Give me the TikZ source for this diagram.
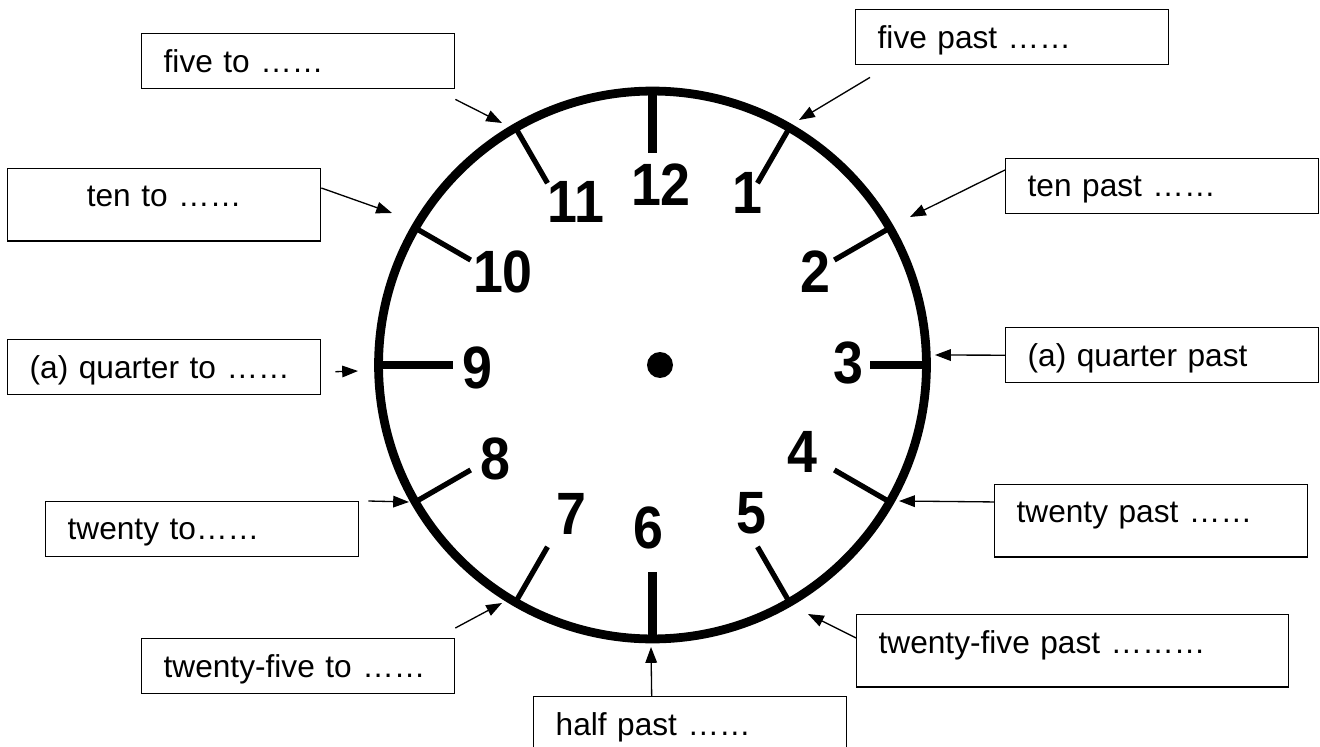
\documentclass[tikz,border=0pt]{standalone}
\usepackage{fontspec}
\setmainfont{Liberation Sans}
\newfontfamily\dialfont[FakeStretch=0.9]{Liberation Sans}
\usetikzlibrary{arrows.meta, positioning}
\tikzset{
    clock/.style={x=0.02cm, y=-0.02cm, font=\fontsize{18}{22}\selectfont},
    clock box/.style={draw, line width=0.8pt, anchor=north west,
        minimum width=6.26cm, minimum height=1.1cm, text width=5.38cm,
        inner xsep=0.44cm, align=left, text depth=0pt},
    clock tall box/.style={clock box, minimum height=1.45cm, text depth=0.34cm},
    clock arrow/.style={-{Triangle[length=9pt, width=6.6pt]}, line width=0.75pt},
    clock rim/.style={line width=5pt},
    clock tick/.style={line width=3pt},
    clock main tick/.style={line width=5pt},
    clock digit/.style={font=\dialfont\bfseries\fontsize{34}{34}\selectfont, inner sep=0pt},
}

\begin{document}
\begin{tikzpicture}[clock]

    \useasboundingbox (0,0) rectangle (1320,747);
    \clip (0,0) rectangle (1320,747);

    % Clock face
    \coordinate (ctr) at (652.5,365);
    \coordinate (hub) at (660,365);
    \draw[clock rim] (ctr) circle[radius=5.48cm];
    \fill (hub) circle[radius=0.26cm];
    \begin{scope}[shift={(ctr)}]
        \foreach \a in {30,60,120,150,210,240,300,330}
            \draw[clock tick] (\a:5.48cm) -- (\a:4.2cm);
        \foreach \a/\r in {0/4.35cm,90/4.24cm,180/4.0cm,270/4.14cm}
            \draw[clock main tick] (\a:5.48cm) -- (\a:\r);
    \end{scope}
    \foreach \n/\px/\py in {12/661/185, 1/747/193, 2/815/272, 3/848/363,
            4/802/452, 5/751/513, 6/648/528, 7/571/514, 8/495/459,
            9/477/368, 10/503/272, 11/576/202}
        \node[clock digit] (d\n) at (\px,\py) {\n};

    % Nodes
    \node[clock box] (fiveto) at (141,33) {five to ……};
    \node[clock tall box, align=center] (tento) at (7,168) {ten to ……};
    \node[clock box] (quarterto) at (7,339) {(a) quarter to ……};
    \node[clock box] (twentyto) at (45,501) {twenty to……};
    \node[clock box] (twentyfiveto) at (141,638) {twenty-five to ……};
    \node[clock box] (halfpast) at (533,696) {half past ……};
    \node[clock tall box, minimum width=8.64cm, text width=7.76cm] (twentyfivepast) at (856,614) {twenty-five past ………};
    \node[clock tall box] (twentypast) at (994,484) {twenty past ……};
    \node[clock box] (quarterpast) at (1005,327) {(a) quarter past};
    \node[clock box] (tenpast) at (1005,158) {ten past ……};
    \node[clock box] (fivepast) at (855,9) {five past ……};

    % Arrow tips on the rim
    \coordinate (at fiveto) at (502,123);
    \coordinate (at tento) at (392,213);
    \coordinate (at quarterto) at (358,371);
    \coordinate (at twentyto) at (409,502);
    \coordinate (at twentyfiveto) at (502,603);
    \coordinate (at halfpast) at (651,647);
    \coordinate (at twentyfivepast) at (808,614);
    \coordinate (at twentypast) at (899,501);
    \coordinate (at quarterpast) at (935,355);
    \coordinate (at tenpast) at (910,217);
    \coordinate (at fivepast) at (799,120);

    % Arrows
    \draw[clock arrow] ([yshift=-0.2cm]fiveto.south east) -- (at fiveto);
    \draw[clock arrow] ([yshift=-0.4cm]tento.north east) -- (at tento);
    \draw[clock arrow] ([xshift=0.28cm, yshift=-0.09cm]quarterto.east) -- (at quarterto);
    \draw[clock arrow] ([xshift=0.18cm]twentyto.north east) -- (at twentyto);
    \draw[clock arrow] ([yshift=0.2cm]twentyfiveto.north east) -- (at twentyfiveto);
    \draw[clock arrow] ([xshift=-0.77cm]halfpast.north) -- (at halfpast);
    \draw[clock arrow] ([yshift=0.26cm]twentyfivepast.west) -- (at twentyfivepast);
    \draw[clock arrow] ([yshift=0.38cm]twentypast.west) -- (at twentypast);
    \draw[clock arrow] (quarterpast.west) -- (at quarterpast);
    \draw[clock arrow] ([yshift=-0.24cm]tenpast.north west) -- (at tenpast);
    \draw[clock arrow] ([xshift=0.3cm, yshift=-0.24cm]fivepast.south west) -- (at fivepast);

\end{tikzpicture}
\end{document}
